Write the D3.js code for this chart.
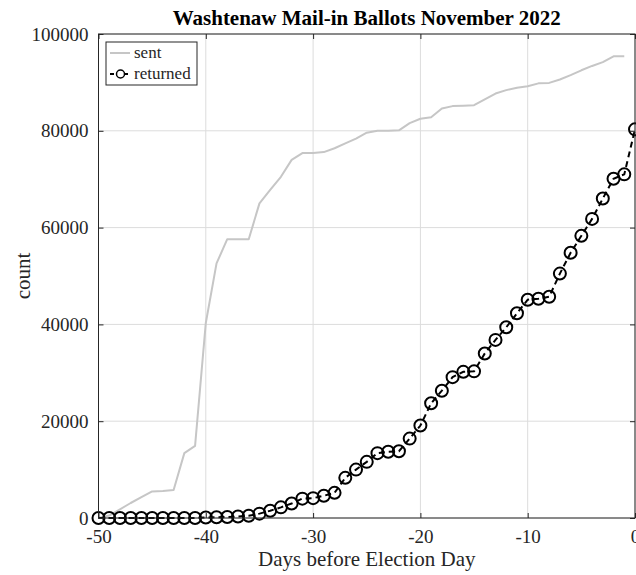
<!DOCTYPE html>
<html>
<head>
<meta charset="utf-8">
<script src="https://cdn.jsdelivr.net/npm/d3@7"></script>
<style>
  html, body { margin: 0; padding: 0; background: #fff; }
  svg { display: block; }
  text { font-family: "Liberation Serif", "DejaVu Serif", serif; }
</style>
</head>
<body>
<svg id="chart" width="636" height="575"></svg>
<script>
const days = d3.range(-50, 1);

const sentDays = d3.range(-50, 0);
const sentValues = [
  0, 500, 1800, 3100, 4300, 5500, 5600, 5800, 13400, 14900,
  40300, 52600, 57600, 57600, 57600, 65000, 67800, 70500, 74000, 75400,
  75400, 75600, 76400, 77400, 78400, 79600, 80000, 80000, 80100, 81600,
  82500, 82800, 84600, 85100, 85200, 85300, 86500, 87700, 88400, 88900,
  89200, 89800, 89900, 90600, 91500, 92500, 93400, 94200, 95400, 95400
];

const returnedValues = [
  0, 0, 0, 0, 0, 0, 0, 0, 0, 0,
  100, 150, 200, 300, 450, 900, 1500, 2200, 3000, 4000,
  4100, 4600, 5200, 8300, 10000, 11600, 13400, 13700, 13800, 16400,
  19100, 23700, 26300, 29100, 30200, 30300, 34000, 36800, 39400, 42300,
  45100, 45300, 45700, 50500, 54800, 58300, 61800, 66000, 70100, 71000,
  80300
];

const xTicks = [-50, -40, -30, -20, -10, 0];
const yTicks = [0, 20000, 40000, 60000, 80000, 100000];

const title = "Washtenaw Mail-in Ballots November 2022";
const xLabel = "Days before Election Day";
const yLabel = "count";
const legendLabels = ["sent", "returned"];

const svg = d3.select("#chart");
const L = 98.5, R = 635, T = 34, B = 518;
const x = d3.scaleLinear().domain([-50, 0]).range([L, R]);
const y = d3.scaleLinear().domain([0, 100000]).range([B, T]);

const axisColor = "#262626";
const gridColor = "#dcdcdc";

// grid
svg.append("g").selectAll("line.vg").data(xTicks).join("line")
  .attr("x1", d => x(d)).attr("x2", d => x(d))
  .attr("y1", T).attr("y2", B)
  .attr("stroke", gridColor).attr("stroke-width", 1);
svg.append("g").selectAll("line.hg").data(yTicks).join("line")
  .attr("x1", L).attr("x2", R)
  .attr("y1", d => y(d)).attr("y2", d => y(d))
  .attr("stroke", gridColor).attr("stroke-width", 1);

// sent line
const sentData = sentDays.map((d, i) => [d, sentValues[i]]);
svg.append("path").datum(sentData)
  .attr("fill", "none").attr("stroke", "#c6c6c6").attr("stroke-width", 2)
  .attr("stroke-linejoin", "round")
  .attr("d", d3.line().x(d => x(d[0])).y(d => y(d[1])));

// returned line
const retData = days.map((d, i) => [d, returnedValues[i]]);
svg.append("path").datum(retData)
  .attr("fill", "none").attr("stroke", "#000").attr("stroke-width", 2)
  .attr("stroke-dasharray", "6,4")
  .attr("d", d3.line().x(d => x(d[0])).y(d => y(d[1])));
svg.append("g").selectAll("circle").data(retData).join("circle")
  .attr("cx", d => x(d[0])).attr("cy", d => y(d[1])).attr("r", 6)
  .attr("fill", "none").attr("stroke", "#000").attr("stroke-width", 2);

// axes box
const box = svg.append("g");
box.append("rect").attr("x", L).attr("y", T).attr("width", R - L).attr("height", B - T)
  .attr("fill", "none").attr("stroke", axisColor).attr("stroke-width", 1);

const xAxisB = d3.axisBottom(x).tickValues(xTicks).tickSize(-5).tickPadding(12)
  .tickFormat(d3.format("d"));
const gx = svg.append("g").attr("transform", `translate(0,${B})`).call(xAxisB);
gx.select(".domain").remove();
gx.selectAll("line").attr("stroke", axisColor);
gx.selectAll("text").attr("font-size", 19).attr("fill", axisColor)
  .attr("font-family", "Liberation Serif").text(d => String(d).replace("−", "-"));

const gxt = svg.append("g").attr("transform", `translate(0,${T})`)
  .call(d3.axisTop(x).tickValues(xTicks).tickSize(-5).tickFormat(""));
gxt.select(".domain").remove();
gxt.selectAll("line").attr("stroke", axisColor);

const gy = svg.append("g").attr("transform", `translate(${L},0)`)
  .call(d3.axisLeft(y).tickValues(yTicks).tickSize(-5).tickPadding(10).tickFormat(d3.format("d")));
gy.select(".domain").remove();
gy.selectAll("line").attr("stroke", axisColor);
gy.selectAll("text").attr("font-size", 19).attr("fill", axisColor)
  .attr("font-family", "Liberation Serif");

const gyr = svg.append("g").attr("transform", `translate(${R},0)`)
  .call(d3.axisRight(y).tickValues(yTicks).tickSize(-5).tickFormat(""));
gyr.select(".domain").remove();
gyr.selectAll("line").attr("stroke", axisColor);

// labels
svg.append("text").attr("x", (L + R) / 2).attr("y", 25)
  .attr("text-anchor", "middle").attr("font-size", 21).attr("font-weight", "bold")
  .attr("fill", "#000").text(title);
svg.append("text").attr("x", (L + R) / 2).attr("y", 566)
  .attr("text-anchor", "middle").attr("font-size", 21).attr("fill", axisColor).text(xLabel);
svg.append("text").attr("transform", `translate(30,${(T + B) / 2}) rotate(-90)`)
  .attr("text-anchor", "middle").attr("font-size", 21).attr("fill", axisColor).text(yLabel);

// legend
const lg = svg.append("g");
lg.append("rect").attr("x", 106).attr("y", 42).attr("width", 91).attr("height", 43)
  .attr("fill", "#fff").attr("stroke", axisColor).attr("stroke-width", 1);
lg.append("line").attr("x1", 110).attr("x2", 130).attr("y1", 53).attr("y2", 53)
  .attr("stroke", "#c6c6c6").attr("stroke-width", 2);
lg.append("line").attr("x1", 110).attr("x2", 131).attr("y1", 74).attr("y2", 74)
  .attr("stroke", "#000").attr("stroke-width", 2).attr("stroke-dasharray", "4,3");
lg.append("circle").attr("cx", 120.5).attr("cy", 74).attr("r", 4)
  .attr("fill", "#fff").attr("stroke", "#000").attr("stroke-width", 1.5);
lg.selectAll("text.lt").data(legendLabels).join("text")
  .attr("x", 134).attr("y", (d, i) => 58 + i * 21)
  .attr("font-size", 17).attr("fill", axisColor).text(d => d);
</script>
</body>
</html>
